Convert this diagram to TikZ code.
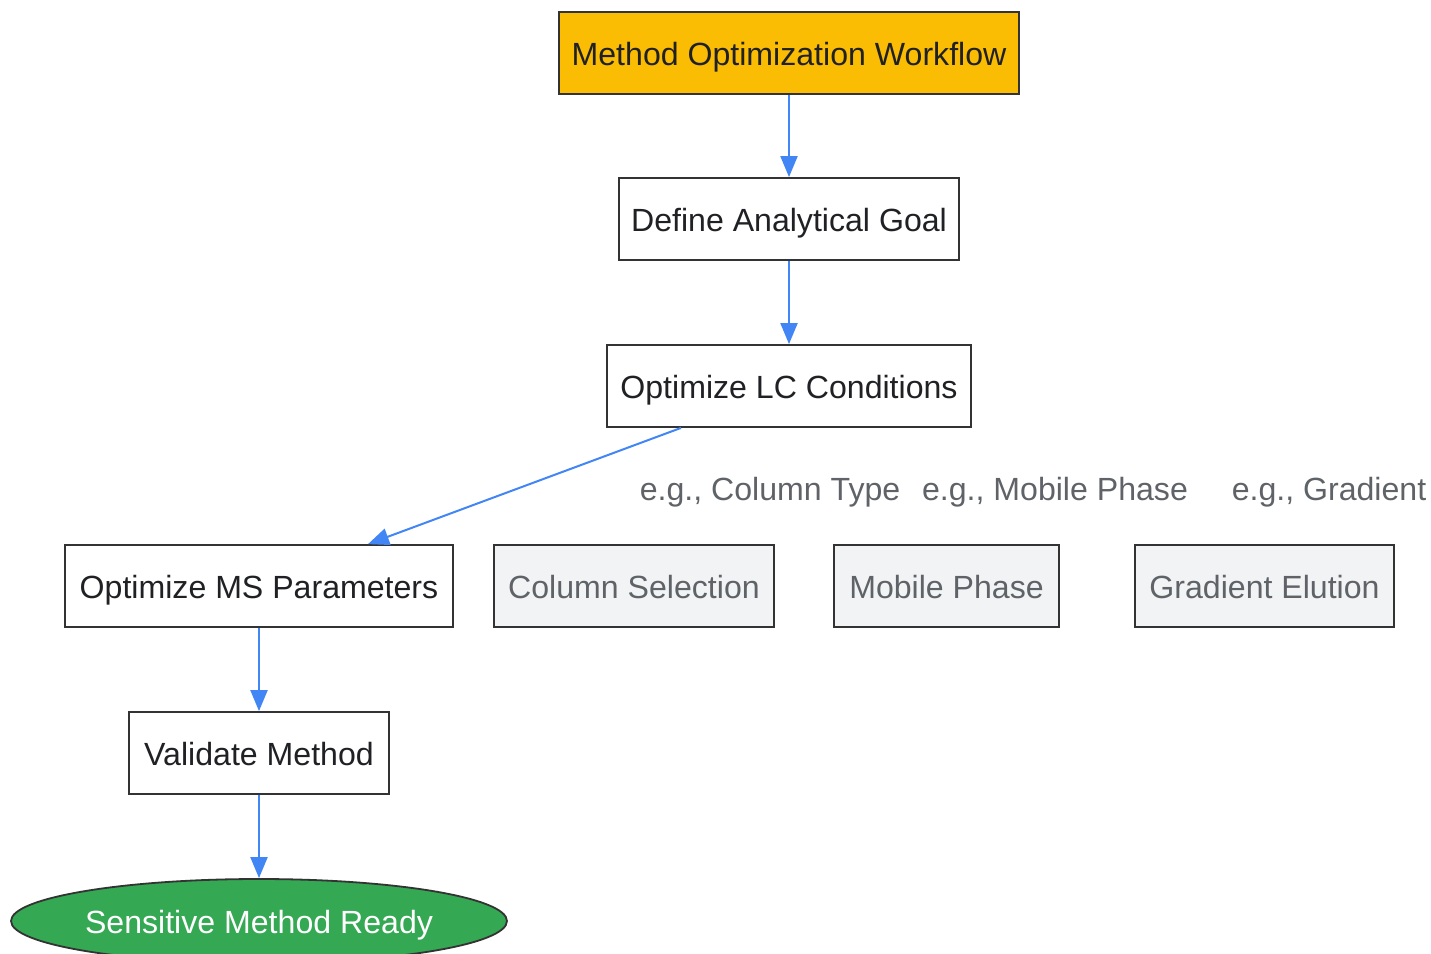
\documentclass[tikz,border=0pt]{standalone}
\usepackage{fontspec}
\setmainfont{Liberation Sans}
\usetikzlibrary{arrows.meta,shapes.geometric}
\definecolor{gyellow}{HTML}{FBBC04}
\definecolor{ggreen}{HTML}{34A853}
\definecolor{gblue}{HTML}{4285F4}
\definecolor{glight}{HTML}{F1F3F4}
\definecolor{ggray}{HTML}{5F6368}
\definecolor{dtext}{HTML}{202124}
\definecolor{dline}{HTML}{333333}
\tikzset{
  base/.style={draw=dline, line width=1.8pt, inner sep=0pt, font=\fontsize{32.1}{38}\selectfont, text=dtext, text height=24pt, text depth=0pt},
  boxn/.style={base, rectangle, fill=white, minimum height=82pt},
  topbox/.style={boxn, fill=gyellow},
  graybox/.style={boxn, fill=glight, text=ggray},
  endnode/.style={base, ellipse, fill=ggreen, text=white, minimum width=496pt, minimum height=84pt},
  note/.style={inner sep=0pt, text=ggray, font=\fontsize{32.1}{38}\selectfont, text height=24pt, text depth=0pt},
  flow/.style={draw=gblue, line width=2pt, -{Triangle[length=21pt,width=17pt]}}
}
\begin{document}
\begin{tikzpicture}[x=1pt,y=-1pt]
\useasboundingbox (0,0) rectangle (1431,953);
\node[topbox, minimum width=460pt] (top) at (789,53) {Method Optimization Workflow};
\node[boxn, minimum width=340pt] (goal) at (789,219) {Define Analytical Goal};
\node[boxn, minimum width=364pt] (lc) at (789,386) {Optimize LC Conditions};
\node[boxn, minimum width=388pt] (ms) at (259,586) {Optimize MS Parameters};
\node[graybox, minimum width=280pt] (col) at (634,586) {Column Selection};
\node[graybox, minimum width=225pt] (mob) at (946.5,586) {Mobile Phase};
\node[graybox, minimum width=259pt] (grad) at (1264.5,586) {Gradient Elution};
\node[boxn, minimum width=260pt] (val) at (259,753) {Validate Method};
\node[endnode] (ready) at (259,921) {Sensitive Method Ready};
\node[note] (n1) at (770,488) {e.g., Column Type};
\node[note] (n2) at (1055,488) {e.g., Mobile Phase};
\node[note] (n3) at (1329,488) {e.g., Gradient};
\draw[flow] (top.south) -- (goal.north);
\draw[flow] (goal.south) -- (lc.north);
\draw[flow] ([xshift=-108pt]lc.south) -- ([xshift=109pt]ms.north);
\draw[flow] (ms.south) -- (val.north);
\draw[flow] (val.south) -- (ready.north);
\end{tikzpicture}
\end{document}
